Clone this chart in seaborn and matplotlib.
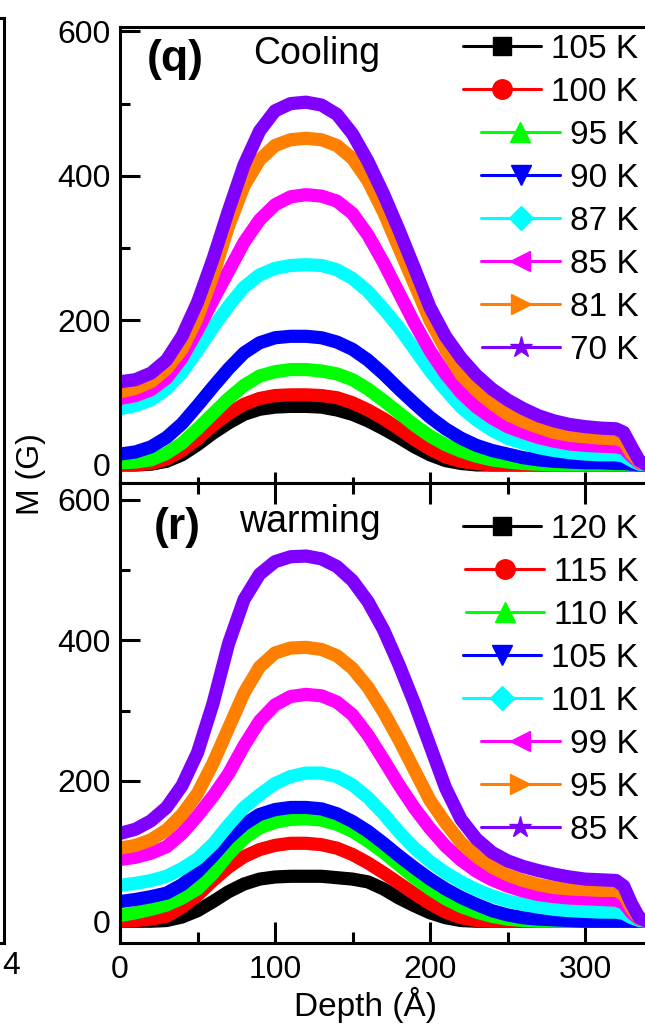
import numpy as np
import pandas as pd
import matplotlib
matplotlib.use("Agg")
import matplotlib.pyplot as plt
import seaborn as sns
from matplotlib.lines import Line2D
from matplotlib.ticker import MultipleLocator

sns.set_theme(style="ticks")
plt.rcParams['font.family'] = ['Liberation Sans', 'DejaVu Sans']
for key in ("text.color", "axes.labelcolor", "xtick.color", "ytick.color", "axes.edgecolor"):
    plt.rcParams[key] = "black"

# ---------------- data ----------------
depth = [0, 10, 20, 30, 40, 50, 60, 70, 80, 90, 100, 110, 120, 130, 140, 150, 160,
         170, 180, 190, 200, 210, 220, 230, 240, 250, 260, 270, 280, 290, 300, 310,
         320, 325, 330, 335, 340]

cool_labels = ["105 K", "100 K", "95 K", "90 K", "87 K", "85 K", "81 K", "70 K"]
cool_105 = [0, 0, 1, 5, 14, 28, 44, 58, 70, 77, 80, 81, 81, 80, 76, 70, 61, 50, 38, 25,
            14, 6, 2, 0, 0, 0, 0, 0, 0, 0, 0, 0, 0, 0, 0, 0, 0]
cool_100 = [0, 0, 2, 8, 20, 36, 55, 71, 84, 92, 96, 97, 97, 96, 93, 86, 76, 64, 50, 35,
            22, 11, 5, 2, 0, 0, 0, 0, 0, 0, 0, 0, 0, 0, 0, 0, 0]
cool_95 = [3, 4, 7, 16, 30, 50, 71, 92, 110, 123, 129, 132, 132, 130, 126, 118, 105, 89,
           72, 55, 40, 28, 19, 12, 7, 4, 2, 1, 0, 0, 0, 0, 0, 0, 0, 0, 0]
cool_90 = [15, 18, 25, 38, 57, 82, 108, 133, 155, 169, 176, 178, 178, 176, 170, 160, 145,
           126, 105, 85, 66, 50, 37, 27, 20, 15, 10, 7, 5, 4, 3, 3, 2, 2, 1, 0, 0]
cool_87 = [78, 82, 90, 105, 128, 158, 190, 220, 246, 263, 272, 276, 277, 276, 270, 258,
           240, 216, 190, 160, 130, 104, 80, 62, 48, 37, 30, 24, 20, 17, 15, 14, 14, 12,
           6, 1, 0]
cool_85 = [92, 96, 104, 120, 148, 186, 228, 268, 308, 339, 360, 371, 374, 372, 365, 348,
           318, 280, 238, 196, 158, 126, 100, 80, 65, 53, 45, 38, 33, 29, 27, 26, 25, 23,
           12, 3, 0]
cool_81 = [101, 106, 115, 133, 160, 204, 262, 330, 386, 422, 442, 450, 452, 450, 442, 424,
           393, 350, 300, 250, 200, 160, 125, 103, 85, 70, 60, 52, 45, 41, 39, 37, 36, 33,
           16, 4, 0]
cool_70 = [115, 118, 127, 145, 178, 225, 285, 352, 415, 462, 490, 500, 502, 498, 485, 458,
           420, 375, 325, 272, 218, 178, 148, 124, 105, 90, 78, 68, 61, 56, 53, 51, 50, 45,
           25, 6, 0]

warm_labels = ["120 K", "115 K", "110 K", "105 K", "101 K", "99 K", "95 K", "85 K"]
warm_120 = [0, 0, 0, 1, 6, 15, 28, 42, 53, 60, 63, 64, 64, 64, 62, 60, 56, 46, 33, 22,
            12, 5, 1, 0, 0, 0, 0, 0, 0, 0, 0, 0, 0, 0, 0, 0, 0]
warm_115 = [0, 1, 3, 7, 20, 37, 58, 77, 92, 102, 108, 111, 111, 109, 104, 95, 83, 69, 54,
            39, 25, 13, 5, 1, 0, 0, 0, 0, 0, 0, 0, 0, 0, 0, 0, 0, 0]
warm_110 = [8, 12, 17, 23, 33, 46, 68, 95, 118, 133, 141, 145, 146, 144, 138, 128, 114, 98,
            80, 62, 46, 32, 21, 13, 7, 3, 1, 0, 0, 0, 0, 0, 0, 0, 0, 0, 0]
warm_105 = [28, 31, 35, 40, 52, 70, 93, 118, 138, 152, 159, 162, 162, 160, 153, 142, 128,
            111, 93, 76, 60, 46, 34, 24, 15, 9, 5, 3, 2, 1, 0, 0, 0, 0, 0, 0, 0]
warm_101 = [51, 54, 58, 64, 75, 89, 110, 137, 162, 180, 196, 206, 211, 211, 206, 194, 176,
            153, 127, 104, 85, 69, 56, 45, 36, 29, 24, 20, 17, 15, 14, 13, 13, 11, 5, 1, 0]
warm_99 = [88, 91, 97, 106, 125, 150, 178, 210, 250, 285, 308, 320, 323, 321, 312, 294,
           265, 230, 194, 161, 132, 107, 87, 71, 59, 50, 43, 38, 35, 33, 32, 31, 30, 26,
           12, 3, 0]
warm_95 = [104, 108, 116, 130, 152, 182, 225, 275, 325, 362, 382, 389, 390, 387, 378, 360,
           333, 298, 258, 215, 172, 140, 112, 92, 77, 66, 58, 52, 48, 46, 45, 44, 44, 38,
           18, 4, 0]
warm_85 = [125, 131, 143, 162, 193, 240, 310, 395, 458, 494, 512, 519, 520, 516, 505, 485,
           455, 415, 365, 310, 250, 190, 145, 117, 98, 86, 78, 72, 67, 63, 60, 59, 58, 50,
           25, 5, 0]

# fragment of the neighbouring panel at the far left
frag_pos = [3.93, 3.93]
frag_val = [0.0, 1.0]
frag_tick_label = "4"

colors = ["#000000", "#FF0000", "#00FF00", "#0000FF", "#00FFFF", "#FF00FF", "#FF8000", "#8000FF"]
markers = ["s", "o", "^", "v", "D", "<", ">", "*"]
msizes = [13, 14, 14, 14, 12, 14, 14, 16]

cool_series = [cool_105, cool_100, cool_95, cool_90, cool_87, cool_85, cool_81, cool_70]
warm_series = [warm_120, warm_115, warm_110, warm_105, warm_101, warm_99, warm_95, warm_85]


def long_df(labels, series):
    frames = []
    for lab, vals in zip(labels, series):
        frames.append(pd.DataFrame({"Depth": depth, "M": vals, "T": lab}))
    return pd.concat(frames, ignore_index=True)


cool_df = long_df(cool_labels, cool_series)
warm_df = long_df(warm_labels, warm_series)

# ---------------- layout ----------------
W, H = 645, 1027
fig = plt.figure(figsize=(W / 100, H / 100), dpi=100)


def fx(px):
    return px / W


def fy(py):
    return 1 - py / H


ax_top = fig.add_axes([fx(120), fy(483), fx(645) - fx(120), fy(27) - fy(483)])
ax_bot = fig.add_axes([fx(120), fy(943), fx(645) - fx(120), fy(483) - fy(943)])
ax_frag = fig.add_axes([fx(-300), fy(943), fx(304), fy(18) - fy(943)])

legend_y = {id(ax_top): 1 - 5 / 456, id(ax_bot): 1 - 29 / 460}

for ax, df, labels in ((ax_top, cool_df, cool_labels), (ax_bot, warm_df, warm_labels)):
    sns.lineplot(data=df, x="Depth", y="M", hue="T", hue_order=labels,
                 palette=colors, linewidth=9.5, legend=False, ax=ax,
                 estimator=None, sort=False, solid_capstyle="round",
                 solid_joinstyle="round")
    ax.set_xlim(0, 338.7)
    ax.xaxis.set_major_locator(MultipleLocator(100))
    ax.xaxis.set_minor_locator(MultipleLocator(50))
    ax.yaxis.set_major_locator(MultipleLocator(200))
    ax.yaxis.set_minor_locator(MultipleLocator(100))
    ax.tick_params(axis="both", which="both", direction="in", width=2.2,
                   colors="black", labelsize=23)
    ax.tick_params(axis="y", which="major", length=14.5, pad=7)
    ax.tick_params(axis="y", which="minor", length=7.5)
    ax.tick_params(axis="y", right=False, left=True)
    ax.spines["right"].set_visible(False)
    for s in ax.spines.values():
        s.set_linewidth(2.2)
        s.set_color("black")
    ax.set_xlabel("")
    ax.set_ylabel("")

    handles = [Line2D([], [], color=c, marker=m, markersize=ms, lw=2.2,
                      markeredgecolor=c) for c, m, ms in zip(colors, markers, msizes)]
    leg = ax.legend(handles=handles, labels=labels, loc="upper right",
                    bbox_to_anchor=(1 - 5 / 525, legend_y[id(ax)]), frameon=False,
                    fontsize=24, handlelength=2.35, handletextpad=0.3,
                    labelspacing=0.36, borderpad=0.05, borderaxespad=0)
    for col in leg._legend_handle_box.get_children():
        col.align = "right"

ax_top.set_ylim(-25, 606)
ax_bot.set_ylim(-31, 624)

ax_top.tick_params(axis="x", which="major", length=8, bottom=True, top=False, labelbottom=False)
ax_top.tick_params(axis="x", which="minor", length=4.5, bottom=True, top=False)
ax_bot.tick_params(axis="x", which="major", length=15, bottom=True, top=True, pad=9)
ax_bot.tick_params(axis="x", which="minor", length=8, bottom=True, top=True)

# fragment panel at the left edge
ax_frag.plot(frag_pos, frag_val, color="#FF0000", lw=2.0, ls=(0, (6, 5)))
ax_frag.set_xlim(0, 4)
ax_frag.set_ylim(0, 1)
ax_frag.set_xticks([])
ax_frag.set_yticks([])
for s in ax_frag.spines.values():
    s.set_linewidth(2.2)
    s.set_color("black")
ax_frag.set_facecolor("none")
fig.text(fx(2), fy(966), frag_tick_label, fontsize=23, ha="left", va="center")

# texts
fig.text(fx(175), fy(60), "(q)", fontsize=32, fontweight="bold", ha="center", va="center")
fig.text(fx(317), fy(54), "Cooling", fontsize=27, ha="center", va="center")
fig.text(fx(177), fy(527), "(r)", fontsize=32, fontweight="bold", ha="center", va="center")
fig.text(fx(310), fy(522), "warming", fontsize=27, ha="center", va="center")
fig.text(fx(365), fy(1005), "Depth (Å)", fontsize=24, ha="center", va="center")
fig.text(fx(31), fy(474), "M (G)", fontsize=23, ha="center", va="center", rotation=90)

fig.savefig("out.png", dpi=100)
